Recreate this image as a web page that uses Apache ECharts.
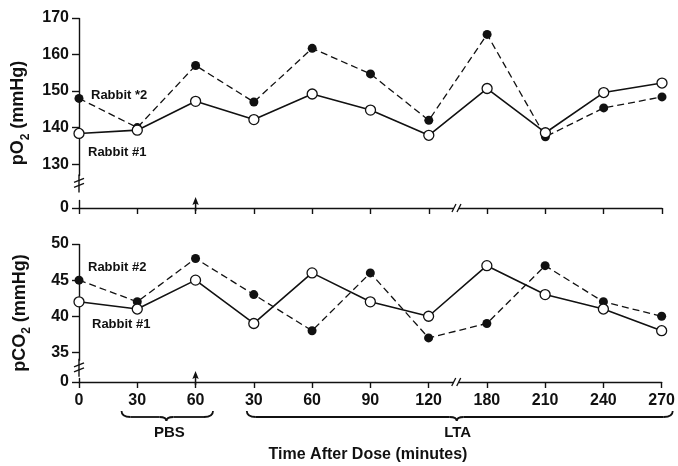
<!DOCTYPE html>
<html>
<head>
<meta charset="utf-8">
<script src="https://cdn.jsdelivr.net/npm/echarts@6/dist/echarts.min.js"></script>
<style>html,body{margin:0;padding:0;background:#fff;}#c{width:678px;height:466px;}</style>
</head>
<body>
<div id="c"></div>
<script>
const categories = ['0','30','60','30','60','90','120','180','210','240','270'];
const po2Rabbit1 = [138.4,139.3,147.2,142.2,149.2,144.8,137.9,150.7,138.6,149.6,152.2];
const po2Rabbit2 = [148,140,157,147,161.7,154.7,142,165.5,137.5,145.4,148.4];
const pco2Rabbit1 = [42,41,45,39,46,42,40,47,43,41,38];
const pco2Rabbit2 = [45,42,48,43,38,46,37,39,47,42,40];
const po2Ticks = [0,130,140,150,160,170];
const pco2Ticks = [0,35,40,45,50];
const po2Axis = {min:0, max:170, interval:10, breakStart:2, breakEnd:127, gap:7, ticks:po2Ticks};
const pco2Axis = {min:0, max:50, interval:5, breakStart:0.5, breakEnd:33, gap:1.6, ticks:pco2Ticks};

const FONT = '"Liberation Sans", Arial, Helvetica, sans-serif';
const INK = '#111';

const chart = echarts.init(document.getElementById('c'), null, {renderer:'canvas'});

function xAxisDef(grid, showLabels){
  return {
    type:'category', gridIndex:grid, data:categories, boundaryGap:false,
    axisLine:{show:true, onZero:false, lineStyle:{color:INK, width:1.4}},
    axisTick:{show:true, interval:0, length:6, inside:false, lineStyle:{color:INK, width:1.4}},
    axisLabel:{show:showLabels, interval:0, color:INK, fontFamily:FONT, fontSize:16, fontWeight:'bold', margin:11},
    splitLine:{show:false}
  };
}
function yAxisDef(grid, a, nameParts){
  return {
    type:'value', gridIndex:grid, min:a.min, max:a.max, interval:a.interval,
    breaks:[{start:a.breakStart, end:a.breakEnd, gap:a.gap}],
    breakArea:{show:false},
    name:'{a|'+nameParts[0]+'}{s|2}{a|'+nameParts[1]+'}',
    nameLocation:'middle', nameRotate:90, nameGap:46,
    nameTextStyle:{color:INK, fontFamily:FONT, rich:{
      a:{fontSize:18, fontWeight:'bold', fontFamily:FONT, color:INK, lineHeight:26, verticalAlign:'middle'},
      s:{fontSize:12, fontWeight:'bold', fontFamily:FONT, color:INK, lineHeight:13, verticalAlign:'bottom'}
    }},
    axisLine:{show:true, lineStyle:{color:INK, width:1.4}},
    axisTick:{show:true, length:7, customValues:a.ticks, lineStyle:{color:INK, width:1.4}},
    axisLabel:{color:INK, fontFamily:FONT, fontSize:16, fontWeight:'bold', margin:10, customValues:a.ticks},
    splitLine:{show:false}
  };
}
function seriesPair(grid, r1, r2){
  return [
    {type:'line', name:'Rabbit #2', xAxisIndex:grid, yAxisIndex:grid, data:r2,
     symbol:'circle', symbolSize:9, showAllSymbol:true, animation:false,
     itemStyle:{color:INK, borderColor:INK, borderWidth:0},
     lineStyle:{color:INK, width:1.3, type:[7,4]}, z:3},
    {type:'line', name:'Rabbit #1', xAxisIndex:grid, yAxisIndex:grid, data:r1,
     symbol:'circle', symbolSize:10, showAllSymbol:true, animation:false,
     itemStyle:{color:'#fff', borderColor:INK, borderWidth:1.3},
     lineStyle:{color:INK, width:1.6}, z:4}
  ];
}

const option = {
  animation:false,
  backgroundColor:'#fff',
  grid:[
    {left:79, right:16, top:18, bottom:258, containLabel:false},
    {left:79, right:16, top:244, bottom:84, containLabel:false}
  ],
  xAxis:[xAxisDef(0,false), xAxisDef(1,true)],
  yAxis:[yAxisDef(0, po2Axis, ['pO',' (mmHg)']), yAxisDef(1, pco2Axis, ['pCO',' (mmHg)'])],
  series:[].concat(seriesPair(0, po2Rabbit1, po2Rabbit2), seriesPair(1, pco2Rabbit1, pco2Rabbit2))
};
chart.setOption(option);

function px(grid, idx, val){ return chart.convertToPixel({gridIndex:grid}, [idx, val]); }

const g = [];
const lineStyle = {stroke:INK, lineWidth:1.3};
// y-axis break marks
[[0,130],[1,35]].forEach(function(p, k){
  const top = px(p[0], 0, p[1]);
  const bot = px(p[0], 0, 0);
  const ym = top[1] + (k===0?0.44:0.52)*(bot[1]-top[1]);
  const x = top[0];
  g.push({type:'rect', shape:{x:x-6, y:ym-7, width:12, height:14}, style:{fill:'#fff'}, z:100});
  g.push({type:'line', shape:{x1:x, y1:ym-9, x2:x, y2:ym+9}, style:{stroke:INK, lineWidth:1.4}, z:101});
  g.push({type:'line', shape:{x1:x-5, y1:ym-1, x2:x+5, y2:ym-5}, style:lineStyle, z:102});
  g.push({type:'line', shape:{x1:x-5, y1:ym+4, x2:x+5, y2:ym}, style:lineStyle, z:102});
});
// x-axis break marks and PBS arrows
[0,1].forEach(function(grid){
  const a = px(grid, 6, 0), b = px(grid, 7, 0);
  const xm = (a[0]+b[0])/2 - 2, y = a[1];
  g.push({type:'rect', shape:{x:xm-2, y:y-2, width:5, height:4}, style:{fill:'#fff'}, z:100});
  g.push({type:'line', shape:{x1:xm-4, y1:y+4, x2:xm, y2:y-4}, style:lineStyle, z:101});
  g.push({type:'line', shape:{x1:xm+1, y1:y+4, x2:xm+5, y2:y-4}, style:lineStyle, z:101});
  const ar = px(grid, 2, 0);
  g.push({type:'line', shape:{x1:ar[0], y1:ar[1]-6, x2:ar[0], y2:ar[1]+3}, style:{stroke:INK, lineWidth:1.5}, z:101});
  g.push({type:'polygon', shape:{points:[[ar[0], ar[1]-11],[ar[0]-3.2, ar[1]-3],[ar[0], ar[1]-4.5],[ar[0]+3.2, ar[1]-3]]}, style:{fill:INK}, z:101});
});
// braces
function brace(x1, x2, xm, y0){
  const y1 = y0+6, yt = y0+10;
  const st = {stroke:INK, lineWidth:1.8, fill:null};
  return [
    {type:'bezierCurve', shape:{x1:x1, y1:y0, cpx1:x1, cpy1:y1, x2:x1+9, y2:y1}, style:st, z:50},
    {type:'line', shape:{x1:x1+9, y1:y1, x2:xm-7, y2:y1}, style:st, z:50},
    {type:'bezierCurve', shape:{x1:xm-7, y1:y1, cpx1:xm, cpy1:y1, x2:xm, y2:yt}, style:st, z:50},
    {type:'bezierCurve', shape:{x1:xm, y1:yt, cpx1:xm, cpy1:y1, x2:xm+7, y2:y1}, style:st, z:50},
    {type:'line', shape:{x1:xm+7, y1:y1, x2:x2-9, y2:y1}, style:st, z:50},
    {type:'bezierCurve', shape:{x1:x2-9, y1:y1, cpx1:x2, cpy1:y1, x2:x2, y2:y0}, style:st, z:50}
  ];
}
const p1 = px(1,1,0), p2 = px(1,2,0), p3 = px(1,3,0), p6 = px(1,6,0), p7 = px(1,7,0), p10 = px(1,10,0);
const step = p2[0]-p1[0];
const braceY = 411;
brace(p1[0]-0.27*step, p2[0]+0.3*step, (p1[0]+p2[0])/2, braceY).forEach(function(e){ g.push(e); });
brace(p3[0]-0.12*step, p10[0]+0.19*step, (p6[0]+p7[0])/2 - 1, braceY).forEach(function(e){ g.push(e); });
const txt = function(x, y, s, size, align){
  return {type:'text', x:x, y:y, style:{text:s, fill:INK, font:'bold '+size+'px '+FONT, align:align||'center', verticalAlign:'middle'}, z:60};
};
g.push(txt((p1[0]+p2[0])/2+3, 433, 'PBS', 15));
g.push(txt((p6[0]+p7[0])/2, 433, 'LTA', 15));
g.push(txt(368, 455, 'Time After Dose (minutes)', 16));
g.push(txt(91, 95, 'Rabbit *2', 13, 'left'));
g.push(txt(88, 152, 'Rabbit #1', 13, 'left'));
g.push(txt(88, 267, 'Rabbit #2', 13, 'left'));
g.push(txt(92, 324, 'Rabbit #1', 13, 'left'));
chart.setOption({graphic:g});
</script>
</body>
</html>
